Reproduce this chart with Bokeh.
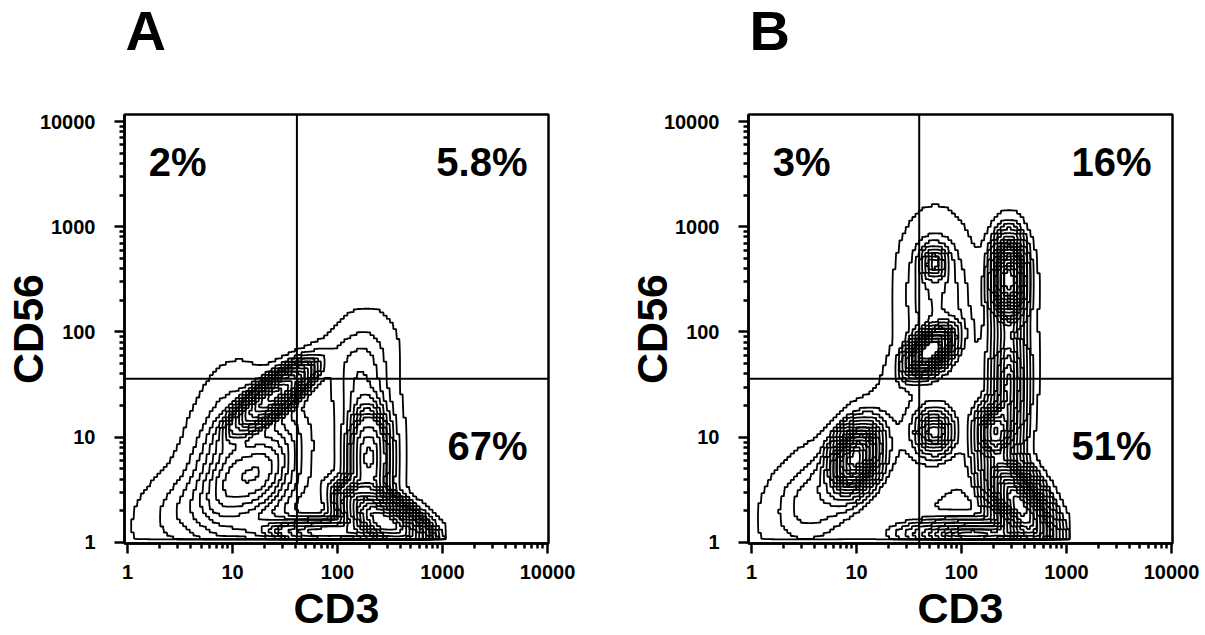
import numpy as np
import contourpy
from bokeh.plotting import figure
from bokeh.layouts import row
from bokeh.models import ColumnDataSource, FixedTicker, PrintfTickFormatter, Label, Span, Title
from bokeh.embed import file_html
from bokeh.resources import INLINE

# ---------------- data ----------------
tick_values = [1, 10, 100, 1000, 10000]
minor_values = [m * 10 ** e for e in range(4) for m in range(2, 10)]

panel_letters = ["A", "B"]
x_title = "CD3"
y_title = "CD56"

# quadrant gate positions (CD3, CD56)
gate_A = [41.0, 36.0]
gate_B = [39.5, 36.0]

# quadrant percentages: upper-left, upper-right, lower-right
pct_A = ["2%", "5.8%", "67%"]
pct_B = ["3%", "16%", "51%"]

# cell populations (log10 CD3 centre, log10 CD56 centre, spreads, correlation, weight)
A_mx = [1.40, 0.95, 1.35, 2.30, 2.45, 1.90, 2.20, 1.30, 0.55]
A_my = [1.40, 0.65, 0.70, 0.80, 0.20, 0.10, 1.65, 0.70, 0.30]
A_sx = [0.20, 0.22, 0.22, 0.14, 0.22, 0.35, 0.20, 0.60, 0.28]
A_sy = [0.17, 0.50, 0.38, 0.33, 0.16, 0.08, 0.30, 0.45, 0.25]
A_rho = [0.80, 0.20, 0.30, 0.00, -0.60, 0.00, 0.20, 0.55, 0.30]
A_w = [0.13, 0.10, 0.08, 0.12, 0.30, 0.08, 0.035, 0.04, 0.025]

B_mx = [0.99, 1.70, 2.45, 2.45, 2.55, 2.10, 1.74, 2.30, 1.74, 1.80, 1.75, 0.60]
B_my = [0.80, 1.82, 2.50, 1.50, 0.35, 0.08, 1.05, 1.05, 2.65, 1.30, 2.40, 0.40]
B_sx = [0.13, 0.12, 0.09, 0.10, 0.18, 0.35, 0.10, 0.10, 0.07, 0.50, 0.20, 0.28]
B_sy = [0.18, 0.12, 0.22, 0.40, 0.25, 0.08, 0.12, 0.15, 0.09, 0.65, 0.40, 0.30]
B_rho = [0.30, 0.50, 0.00, 0.00, -0.60, 0.00, 0.00, 0.00, 0.00, 0.55, 0.00, 0.30]
B_w = [0.10, 0.07, 0.10, 0.08, 0.18, 0.06, 0.02, 0.035, 0.008, 0.06, 0.035, 0.03]

# equal-probability contour fractions
contour_fracs = [0.01, 0.05, 0.10, 0.15, 0.20, 0.25, 0.30, 0.35, 0.40, 0.45,
                 0.50, 0.55, 0.60, 0.65, 0.70, 0.75, 0.80, 0.85, 0.90, 0.95]

# ---------------- helpers ----------------
FONT = "Liberation Sans"
CELL = 1.0 / 32.0        # instrument channel width (decades)
X_LO, X_HI = 0.03, 3.03  # recorded range in decades
Y_LO, Y_HI = 0.03, 4.03


def contour_lines(mx, my, sx, sy, rho, w):
    ncx = int(round((X_HI - X_LO) / CELL))
    ncy = int(round((Y_HI - Y_LO) / CELL))
    cx = X_LO + (np.arange(ncx) + 0.5) * CELL
    cy = Y_LO + (np.arange(ncy) + 0.5) * CELL
    gx, gy = np.meshgrid(cx, cy)
    z = np.zeros_like(gx)
    for a, b, s1, s2, r, wt in zip(mx, my, sx, sy, rho, w):
        dx = (gx - a) / s1
        dy = (gy - b) / s2
        q = (dx * dx - 2 * r * dx * dy + dy * dy) / (1 - r * r)
        z += wt / (2 * np.pi * s1 * s2 * np.sqrt(1 - r * r)) * np.exp(-q / 2)
    # equal-probability levels
    zs = np.sort(z.ravel())
    cum = np.cumsum(zs)
    cum = cum / cum[-1]
    levels = np.interp(contour_fracs, cum, zs)
    # pad with empty channels and blow up each channel to a block (stair-step look)
    zp = np.pad(z, 1)
    cxp = np.concatenate([[cx[0] - CELL], cx, [cx[-1] + CELL]])
    cyp = np.concatenate([[cy[0] - CELL], cy, [cy[-1] + CELL]])
    k = 4
    off = (np.arange(k) + 0.5 - k / 2) * CELL / k
    fx = (cxp[:, None] + off[None, :]).ravel()
    fy = (cyp[:, None] + off[None, :]).ravel()
    zf = np.repeat(np.repeat(zp, k, axis=0), k, axis=1)
    gen = contourpy.contour_generator(fx, fy, zf)
    xs, ys = [], []
    for lv in levels:
        for seg in gen.lines(lv):
            if len(seg) < 2:
                continue
            xs.append(10 ** seg[:, 0])
            ys.append(10 ** seg[:, 1])
    return xs, ys


def make_panel(letter, gate, pct, pops, width, border_left, border_right, letter_offset):
    p = figure(width=width, height=635, x_axis_type="log", y_axis_type="log",
               x_range=(10 ** -0.03, 10 ** 4.01), y_range=(10 ** -0.01, 10 ** 4.067),
               output_backend="svg", toolbar_location=None, title=None,
               min_border_left=border_left, min_border_right=border_right,
               min_border_top=114, min_border_bottom=92)
    # spacer next to the frame, then the panel letter above it
    p.add_layout(Title(text=" ", text_font=FONT, text_font_size="20px", standoff=34), "above")
    p.add_layout(Title(text=letter, align="left", offset=letter_offset, standoff=-10,
                       text_font=FONT, text_font_style="bold", text_font_size="56px",
                       text_color="black"), "above")
    p.grid.visible = False
    p.outline_line_color = "black"
    p.outline_line_width = 2.5
    p.outline_line_alpha = 1.0
    p.background_fill_color = "white"
    p.border_fill_color = "white"

    xs, ys = contour_lines(*pops)
    src = ColumnDataSource(dict(xs=xs, ys=ys))
    p.multi_line("xs", "ys", source=src, line_color="black", line_width=1.8)

    p.add_layout(Span(location=gate[0], dimension="height", line_color="black", line_width=2))
    p.add_layout(Span(location=gate[1], dimension="width", line_color="black", line_width=2))

    for ax in (p.xaxis[0], p.yaxis[0]):
        ax.ticker = FixedTicker(ticks=tick_values, minor_ticks=minor_values)
        ax.formatter = PrintfTickFormatter(format="%d")
        ax.axis_line_width = 2.5
        ax.axis_line_color = "black"
        ax.major_tick_line_width = 2.5
        ax.minor_tick_line_width = 2.5
        ax.major_tick_in = 0
        ax.major_tick_out = 10
        ax.minor_tick_in = 0
        ax.minor_tick_out = 5
        ax.major_label_text_font = FONT
        ax.major_label_text_font_style = "bold"
        ax.major_label_text_font_size = "20px"
        ax.major_label_text_color = "black"
        ax.axis_label_text_font = FONT
        ax.axis_label_text_font_style = "bold"
        ax.axis_label_text_font_size = "43px"
        ax.axis_label_text_color = "black"
    p.xaxis.axis_label = x_title
    p.yaxis.axis_label = y_title
    p.xaxis.major_label_standoff = 11
    p.yaxis.major_label_standoff = 19
    p.xaxis.axis_label_standoff = 2
    p.yaxis.axis_label_standoff = -15

    def lab(x, y, text, align):
        p.add_layout(Label(x=x, y=y, text=text, text_font=FONT, text_font_style="bold",
                           text_font_size="40px", text_align=align, text_baseline="middle",
                           text_color="black"))

    lab(10 ** 0.20, 10 ** 3.62, pct[0], "left")
    lab(10 ** 3.81, 10 ** 3.62, pct[1], "right")
    lab(10 ** 3.81, 10 ** 0.92, pct[2], "right")
    return p


pA = make_panel(panel_letters[0], gate_A, pct_A,
                (A_mx, A_my, A_sx, A_sy, A_rho, A_w), 600, 124, 52, 1)
pB = make_panel(panel_letters[1], gate_B, pct_B,
                (B_mx, B_my, B_sx, B_sy, B_rho, B_w), 605, 148, 33, 1)

layout = row(pA, pB)
open("out.html", "w").write(file_html(layout, INLINE))
